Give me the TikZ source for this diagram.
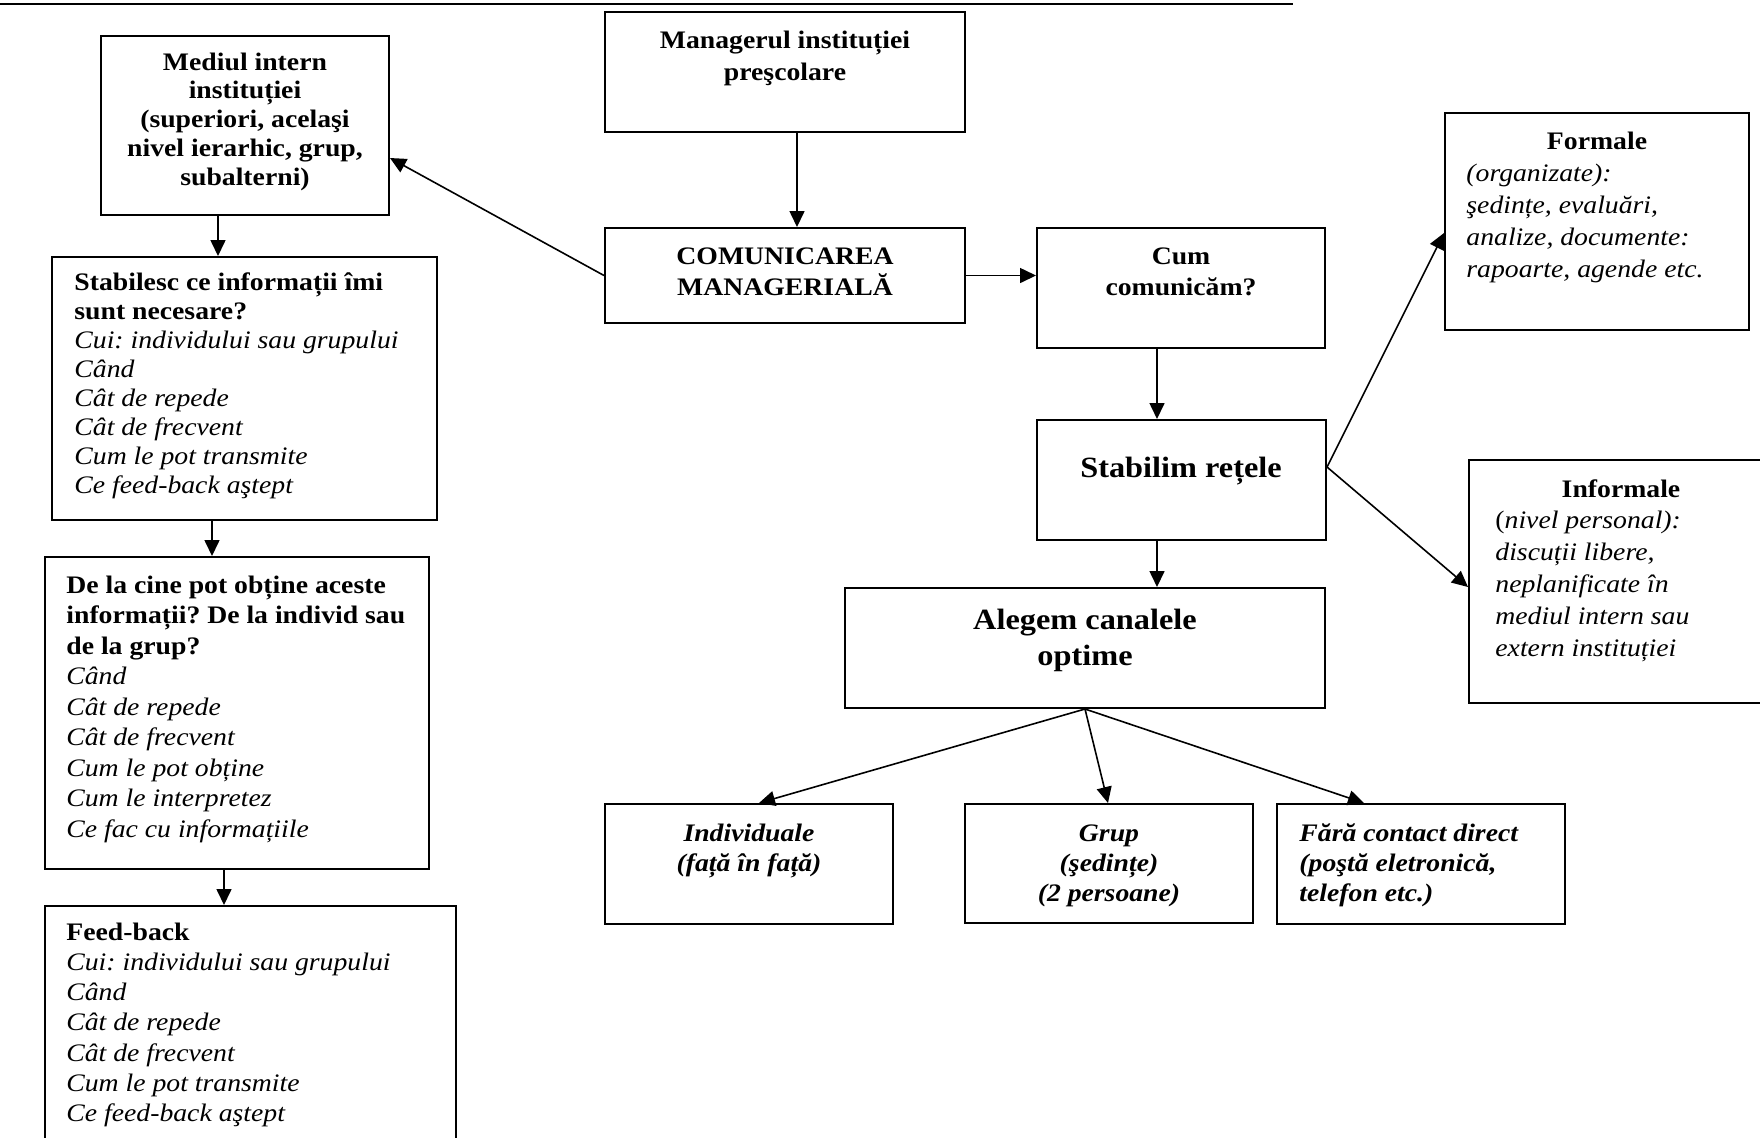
\documentclass[tikz,border=0pt]{standalone}
\usepackage{fontspec}
\setmainfont{Liberation Serif}[FakeStretch=1.1]
\usetikzlibrary{arrows.meta,calc,fit}
\frenchspacing
\newcommand\myctr[2]{\vtop{\baselineskip=#1\relax\lineskiplimit=-100pt\halign{\hfil##\hfil\cr#2\crcr}}}
\newcommand\mylft[2]{\vtop{\baselineskip=#1\relax\lineskiplimit=-100pt\halign{##\hfil\cr#2\crcr}}}
\begin{document}
\begin{tikzpicture}[x=0.5pt,y=-0.5pt,
  box/.style={draw,line width=1pt,inner sep=0pt,rectangle},
  arr/.style={-{Triangle[length=8pt,width=7.5pt]},line width=0.8pt},
  txt/.style={inner sep=0pt,font=\fontsize{12.6pt}{15pt}\selectfont\frenchspacing},
  bigtxt/.style={inner sep=0pt,font=\fontsize{14.7pt}{18pt}\selectfont\bfseries}]
\useasboundingbox (0,0) rectangle (1760,1137);
\fill[white] (0,0) rectangle (1760,1137);
% top rule
\coordinate (ruleL) at (0,3.5);
\coordinate (ruleR) at (1293,3.5);
\draw[line width=1pt] (ruleL) -- (ruleR);
% boxes
\node[box,fit={(101,36)(389,215)}] (mediul) {};
\node[box,fit={(52,257)(437,520)}] (stabilesc) {};
\node[box,fit={(45,557)(429,869)}] (delacine) {};
\node[box,fit={(45,906)(456,1150)}] (feedback) {};
\node[box,fit={(605,12)(965,132)}] (manager) {};
\node[box,fit={(605,228)(965,323)}] (comm) {};
\node[box,fit={(1037,228)(1325,348)}] (cum) {};
\node[box,fit={(1445,113)(1749,330)}] (formale) {};
\node[box,fit={(1037,420)(1326,540)}] (stab) {};
\node[box,fit={(1469,460)(1770,703)}] (informale) {};
\node[box,fit={(845,588)(1325,708)}] (alegem) {};
\node[box,fit={(605,804)(893,924)}] (indiv) {};
\node[box,fit={(965,804)(1253,923)}] (grup) {};
\node[box,fit={(1277,804)(1565,924)}] (fara) {};
% texts
\node[txt,anchor=base] (tmediul) at (245,70) {\bfseries\myctr{14.375pt}{Mediul intern\cr instituției\cr (superiori, acelaşi\cr nivel ierarhic, grup,\cr subalterni)}};
\node[txt,anchor=base west] (tstabilesc) at (74,290) {\mylft{14.55pt}{\bfseries Stabilesc ce informații îmi\cr \bfseries sunt necesare?\cr \itshape Cui: individului sau grupului\cr \itshape Când\cr \itshape Cât de repede\cr \itshape Cât de frecvent\cr \itshape Cum le pot transmite\cr \itshape Ce feed-back aştept}};
\node[txt,anchor=base west] (tdelacine) at (66,593) {\mylft{15.25pt}{\bfseries De la cine pot obține aceste\cr \bfseries informații? De la individ sau\cr \bfseries de la grup?\cr \itshape Când\cr \itshape Cât de repede\cr \itshape Cât de frecvent\cr \itshape Cum le pot obține\cr \itshape Cum le interpretez\cr \itshape Ce fac cu informațiile}};
\node[txt,anchor=base west] (tfeedback) at (66,940) {\mylft{15.15pt}{\bfseries Feed-back\cr \itshape Cui: individului sau grupului\cr \itshape Când\cr \itshape Cât de repede\cr \itshape Cât de frecvent\cr \itshape Cum le pot transmite\cr \itshape Ce feed-back aştept}};
\node[txt,anchor=base] (tmanager) at (785,48) {\bfseries\myctr{16pt}{Managerul instituției\cr preşcolare}};
\node[txt,anchor=base] (tcomm) at (785,264) {\bfseries\myctr{15.5pt}{COMUNICAREA\cr MANAGERIALĂ}};
\node[txt,anchor=base] (tcum) at (1181,264) {\bfseries\myctr{15.5pt}{Cum\cr comunicăm?}};
\node[txt,anchor=base] (tformaleh) at (1597,149) {\bfseries Formale};
\node[txt,anchor=base west] (tformale) at (1466,181) {\itshape\mylft{16pt}{(organizate):\cr şedințe, evaluări,\cr analize, documente:\cr rapoarte, agende etc.}};
\node[bigtxt,anchor=base] (tstab) at (1181,477) {Stabilim rețele};
\node[txt,anchor=base] (tinformaleh) at (1621,497) {\bfseries Informale};
\node[txt,anchor=base west] (tinformale) at (1495,528) {\mylft{16pt}{(\textit{nivel personal):}\cr \itshape discuții libere,\cr \itshape neplanificate în\cr \itshape mediul intern sau\cr \itshape extern instituției}};
\node[bigtxt,anchor=base] (talegem) at (1085,629) {\myctr{18pt}{Alegem canalele\cr optime}};
\node[txt,anchor=base] (tindiv) at (749,841) {\bfseries\itshape\myctr{15pt}{Individuale\cr (față în față)}};
\node[txt,anchor=base] (tgrup) at (1109,841) {\bfseries\itshape\myctr{15pt}{Grup\cr (şedințe)\cr (2 persoane)}};
\node[txt,anchor=base west] (tfara) at (1299,841) {\bfseries\itshape\mylft{15pt}{Fără contact direct\cr (poştă eletronică,\cr telefon etc.)}};
% connectors
\draw[arr] ($(manager.south)+(12,0)$) -- ($(comm.north)+(12,0)$);
\draw[arr] (comm.west) -- ($(mediul.east)+(0,32.5)$);
\draw[arr] (comm.east) -- (comm.east -| cum.west);
\draw[arr] ($(cum.south)+(-24,0)$) -- ($(stab.north)+(-24.5,0)$);
\draw[arr] ($(stab.south)+(-24.5,0)$) -- ($(alegem.north)+(72,0)$);
\draw[arr] ($(stab.east)+(0,-13)$) -- ($(formale.west)+(0,11.5)$);
\draw[arr] ($(stab.east)+(0,-13)$) -- ($(informale.west)+(0,5.5)$);
\draw[arr] (alegem.south) -- ($(indiv.north)+(10,0)$);
\draw[arr] (alegem.south) -- ($(grup.north)+(-1,0)$);
\draw[arr] (alegem.south) -- ($(fara.north)+(-57,0)$);
\draw[arr] ($(mediul.south)+(-27,0)$) -- ($(stabilesc.north)+(-26.5,0)$);
\draw[arr] ($(stabilesc.south)+(-32.5,0)$) -- ($(delacine.north)+(-25,0)$);
\draw[arr] ($(delacine.south)+(-13,0)$) -- ($(feedback.north)+(-26.5,0)$);
\end{tikzpicture}
\end{document}
